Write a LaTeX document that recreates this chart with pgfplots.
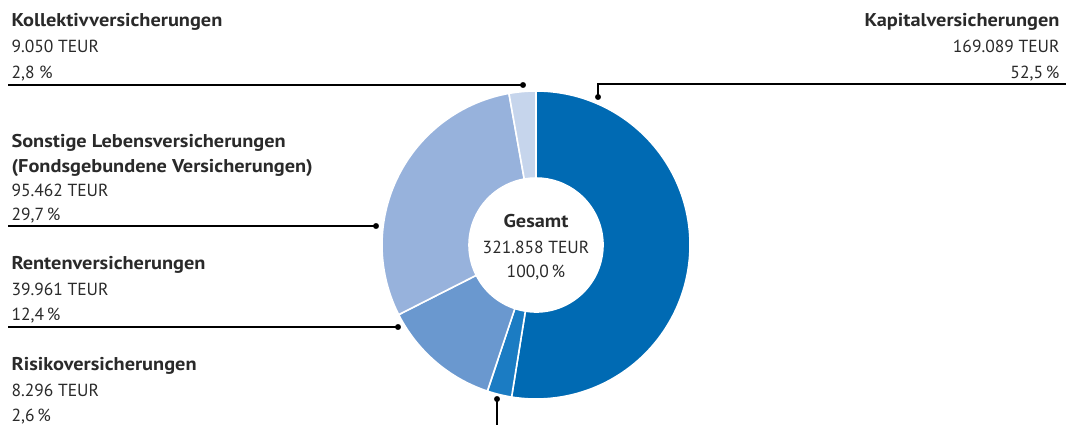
\documentclass[border=0pt]{standalone}
\usepackage{pgfplots}
\pgfplotsset{compat=1.18}
\usepackage{fontspec}
\setmainfont{PT Sans}
\newfontfamily\titlefont{PT Sans Bold}[FakeStretch=1.1]
\definecolor{cKap}{HTML}{006AB3}
\definecolor{cRis}{HTML}{1B7CC3}
\definecolor{cRen}{HTML}{6A98CF}
\definecolor{cSon}{HTML}{97B2DC}
\definecolor{cKol}{HTML}{C6D5EC}
\definecolor{txt}{HTML}{2A2A2A}
% values in TEUR, clockwise from the top
\def\vKap{169089}
\def\vRis{8296}
\def\vRen{39961}
\def\vSon{95462}
\def\vKol{9050}
\newcommand\donutwedge[3]{%
  \fill[#3, draw=white, line width=1.6pt]
   ([shift={(#1:154pt)}]axis cs:536,245) arc[start angle=#1, end angle=#2, radius=154pt]
   -- ([shift={(#2:67pt)}]axis cs:536,245) arc[start angle=#2, end angle=#1, radius=67pt] -- cycle;}
\begin{document}
\begin{tikzpicture}[font=\fontsize{17.5}{21}\selectfont, text=txt,
  ttl/.style={font=\fontsize{18.5}{21}\titlefont}]
\edef\tot{\fpeval{\vKap+\vRis+\vRen+\vSon+\vKol}}
\edef\aA{90}
\edef\aB{\fpeval{\aA-360*\vKap/\tot}}
\edef\aC{\fpeval{\aB-360*\vRis/\tot}}
\edef\aD{\fpeval{\aC-360*\vRen/\tot}}
\edef\aE{\fpeval{\aD-360*\vSon/\tot}}
\edef\aF{\fpeval{\aE-360*\vKol/\tot}}
\begin{axis}[scale only axis, width=1067pt, height=425pt,
  xmin=0, xmax=1067, ymin=0, ymax=425, y dir=reverse,
  hide axis, clip=false]
\donutwedge{\aA}{\aB}{cKap}
\donutwedge{\aB}{\aC}{cRis}
\donutwedge{\aC}{\aD}{cRen}
\donutwedge{\aD}{\aE}{cSon}
\donutwedge{\aE}{\aF}{cKol}
% leader lines
\addplot[black, line width=1.1pt] coordinates {(8,85) (523,85)};
\addplot[black, line width=1.1pt] coordinates {(598,97) (598,84) (1066,84)};
\addplot[black, line width=1.1pt] coordinates {(8,226) (376,226)};
\addplot[black, line width=1.1pt] coordinates {(8,327) (398,327)};
\addplot[black, line width=1.1pt] coordinates {(497,399) (497,425)};
\addplot[only marks, mark=*, mark size=2.7pt, black] coordinates {(523,85) (598,97) (376,226) (398,327) (497,399)};
% labels
\node[anchor=base west, ttl] at (axis cs:8,27) {Kollektivversicherungen};
\node[anchor=base west] at (axis cs:8,53) {9.050 TEUR};
\node[anchor=base west] at (axis cs:8,79) {2,8 \%};
\node[anchor=base east, ttl] at (axis cs:1063,27) {Kapitalversicherungen};
\node[anchor=base east] at (axis cs:1063,53) {169.089 TEUR};
\node[anchor=base east] at (axis cs:1063,79) {52,5\,\%};
\node[anchor=base west, ttl] at (axis cs:8,147) {Sonstige Lebensversicherungen};
\node[anchor=base west, ttl] at (axis cs:8,172) {(Fondsgebundene Versicherungen)};
\node[anchor=base west] at (axis cs:8,196) {95.462 TEUR};
\node[anchor=base west] at (axis cs:8,220) {29,7\,\%};
\node[anchor=base west, ttl] at (axis cs:8,269) {Rentenversicherungen};
\node[anchor=base west] at (axis cs:8,295) {39.961 TEUR};
\node[anchor=base west] at (axis cs:8,320) {12,4\,\%};
\node[anchor=base west, ttl] at (axis cs:8,370) {Risikoversicherungen};
\node[anchor=base west] at (axis cs:8,396) {8.296 TEUR};
\node[anchor=base west] at (axis cs:8,421) {2,6\,\%};
\node[anchor=base, ttl] at (axis cs:536,227) {Gesamt};
\node[anchor=base] at (axis cs:536,253) {321.858 TEUR};
\node[anchor=base] at (axis cs:536,277) {100,0\,\%};
\end{axis}
\pgfresetboundingbox
\path[use as bounding box] (0,0) rectangle (1067pt,425pt);
\end{tikzpicture}
\end{document}
